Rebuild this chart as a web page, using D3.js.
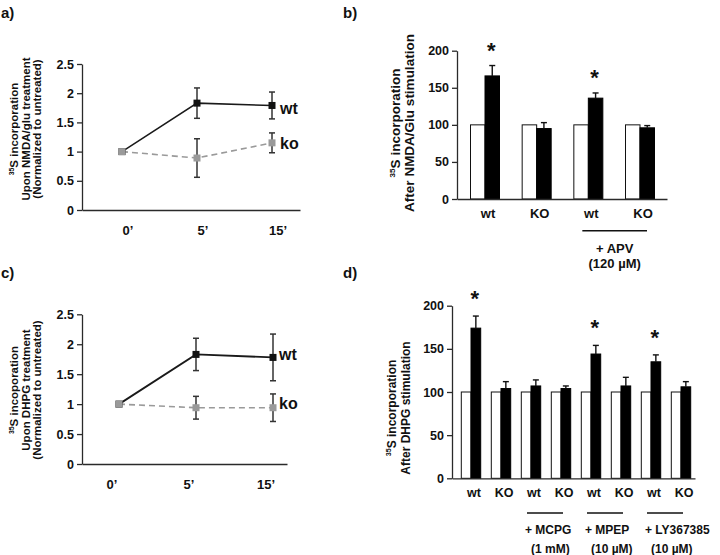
<!DOCTYPE html>
<html><head><meta charset="utf-8">
<script src="https://cdn.jsdelivr.net/npm/d3@7"></script>
<style>
body{margin:0;background:#fff}
svg{display:block}
text{font-family:Arial,"Liberation Sans",sans-serif;font-weight:bold;fill:#111}
</style>
</head><body>
<svg id="chart" width="720" height="555"></svg>
<script>
// ---------- DATA ----------
const timeLabels = ["0’", "5’", "15’"];
const lineTicks = [0, 0.5, 1, 1.5, 2, 2.5];

const nmdaWt = [1.0, 1.83, 1.79];
const nmdaWtErr = [0, 0.26, 0.23];
const nmdaKo = [1.0, 0.89, 1.15];
const nmdaKoErr = [0, 0.33, 0.17];

const dhpgWt = [1.0, 1.83, 1.78];
const dhpgWtErr = [0, 0.27, 0.39];
const dhpgKo = [1.0, 0.94, 0.94];
const dhpgKoErr = [0, 0.19, 0.23];

const barTicks = [0, 50, 100, 150, 200];

const bGroups = ["wt", "KO", "wt", "KO"];
const bCtrl = [100, 100, 100, 100];
const bStim = [166, 95, 136, 96];
const bErr = [14, 8, 7, 3];
const bSig = [true, false, true, false];
const bTreatNames = ["+ APV"];
const bTreatConc = ["(120 µM)"];
const bTreatGroups = [[2, 3]];

const dGroups = ["wt", "KO", "wt", "KO", "wt", "KO", "wt", "KO"];
const dCtrl = [100, 100, 100, 100, 100, 100, 100, 100];
const dStim = [174, 104, 107, 104, 144, 107, 135, 106];
const dErr = [14, 8, 7, 3, 10, 10, 8, 6];
const dSig = [true, false, false, false, true, false, true, false];
const dTreatNames = ["+ MCPG", "+ MPEP", "+ LY367385"];
const dTreatConc = ["(1 mM)", "(10 µM)", "(10 µM)"];
const dTreatGroups = [[2, 3], [4, 5], [6, 7]];

// ---------- DRAW ----------
const svg = d3.select("#chart");
const AX = "#2a2a2a";

function panelLetter(t, x, y) {
  svg.append("text").attr("x", x).attr("y", y).attr("font-size", 15).text(t);
}

function yLabel(lines, xs, cy, fs) {
  lines.forEach((ln, i) => {
    const t = svg.append("text")
      .attr("transform", `translate(${xs[i]},${cy}) rotate(-90)`)
      .attr("text-anchor", "middle").attr("font-size", fs);
    if (i === 0) {
      t.append("tspan").attr("font-size", fs * 0.6).attr("dy", -fs * 0.38).text("35");
      t.append("tspan").attr("dy", fs * 0.38).text(ln);
    } else {
      t.text(ln);
    }
  });
}

function yAxis(scale, x, ticks, fmt, fs) {
  const g = svg.append("g").attr("transform", `translate(${x},0)`)
    .call(d3.axisLeft(scale).tickValues(ticks).tickSize(5).tickSizeOuter(0).tickPadding(3).tickFormat(fmt));
  g.selectAll("path,line").attr("stroke", AX).attr("stroke-width", 1.3);
  g.selectAll("text").attr("font-size", fs).attr("font-family", null).attr("fill", "#111");
  return g;
}

function xAxisLine(x0, x1, y) {
  const s = d3.scaleLinear().range([x0, x1]);
  const g = svg.append("g").attr("transform", `translate(0,${y})`)
    .call(d3.axisBottom(s).ticks(0).tickSizeOuter(0));
  g.selectAll("path").attr("stroke", AX).attr("stroke-width", 1.3);
}

function linePanel(o) {
  const y = d3.scaleLinear().domain([0, 2.5]).range([o.yBottom, o.yTop]);
  const x = d3.scalePoint().domain(timeLabels).range(o.xRange);
  yAxis(y, o.axisX, lineTicks, d3.format("~g"), 12.5);
  xAxisLine(o.axisX, o.xEnd, y(0));
  timeLabels.forEach(t => {
    svg.append("text").attr("x", x(t) + o.labOff).attr("y", y(0) + 25)
      .attr("text-anchor", "middle").attr("font-size", 13).text(t);
  });
  const line = d3.line().x((d, i) => x(timeLabels[i])).y(d => y(d));
  svg.append("path").datum(o.ko).attr("d", line).attr("fill", "none")
    .attr("stroke", "#9a9a9a").attr("stroke-width", 1.6).attr("stroke-dasharray", "6,4");
  svg.append("path").datum(o.wt).attr("d", line).attr("fill", "none")
    .attr("stroke", "#1a1a1a").attr("stroke-width", o.wtW);
  [[o.wt, o.wtErr], [o.ko, o.koErr]].forEach(([v, e]) => {
    v.forEach((d, i) => {
      if (!e[i]) return;
      const cx = x(timeLabels[i]);
      const g = svg.append("g").attr("stroke", "#333").attr("stroke-width", 1.5);
      g.append("line").attr("x1", cx).attr("x2", cx).attr("y1", y(d - e[i])).attr("y2", y(d + e[i]));
      [d - e[i], d + e[i]].forEach(v2 => g.append("line").attr("x1", cx - 3).attr("x2", cx + 3).attr("y1", y(v2)).attr("y2", y(v2)));
    });
  });
  o.wt.forEach((d, i) => svg.append("rect").attr("x", x(timeLabels[i]) - 3.5).attr("y", y(d) - 3.5)
    .attr("width", 7).attr("height", 7).attr("fill", "#111"));
  o.ko.forEach((d, i) => svg.append("rect").attr("x", x(timeLabels[i]) - 3.5).attr("y", y(d) - 3.5)
    .attr("width", 7).attr("height", 7).attr("fill", "#9a9a9a"));
  svg.append("text").attr("x", o.legX).attr("y", o.wtLabY).attr("font-size", 16).text("wt");
  svg.append("text").attr("x", o.legX).attr("y", o.koLabY).attr("font-size", 16).text("ko");
  yLabel(o.ylab, [18, 29.5, 41], o.ylabCY, 11.5);
}

function barPanel(o) {
  const y = d3.scaleLinear().domain([0, 200]).range([o.yBottom, o.yTop]);
  const x = d3.scalePoint().domain(d3.range(o.groups.length)).range(o.xRange);
  yAxis(y, o.axisX, barTicks, d3.format("d"), 12.5);
  o.groups.forEach((g, i) => {
    const c = x(i);
    svg.append("rect").attr("x", c - o.bw).attr("y", y(o.ctrl[i])).attr("width", o.bw)
      .attr("height", y(0) - y(o.ctrl[i])).attr("fill", "#fff").attr("stroke", "#111").attr("stroke-width", 1);
    svg.append("rect").attr("x", c).attr("y", y(o.stim[i])).attr("width", o.bw)
      .attr("height", y(0) - y(o.stim[i])).attr("fill", "#000").attr("stroke", "#000").attr("stroke-width", 1);
    const bc = c + o.bw / 2;
    const eg = svg.append("g").attr("stroke", "#111").attr("stroke-width", 1.4);
    eg.append("line").attr("x1", bc).attr("x2", bc).attr("y1", y(o.stim[i])).attr("y2", y(o.stim[i] + o.err[i]));
    eg.append("line").attr("x1", bc - 3).attr("x2", bc + 3).attr("y1", y(o.stim[i] + o.err[i])).attr("y2", y(o.stim[i] + o.err[i]));
    if (o.sig[i]) {
      svg.append("text").attr("x", bc - 1).attr("y", y(o.stim[i] + o.err[i]) - o.starGap)
        .attr("text-anchor", "middle").attr("font-size", 22).text("*");
    }
    svg.append("text").attr("x", c + o.labOff).attr("y", o.labY).attr("text-anchor", "middle")
      .attr("font-size", o.labFS).text(g);
  });
  xAxisLine(o.axisX, o.xEnd, y(0));
  o.treatGroups.forEach((gr, k) => {
    const x1 = x(gr[0]) - o.brL, x2 = x(gr[1]) + o.brR;
    svg.append("line").attr("x1", x1).attr("x2", x2).attr("y1", o.brY).attr("y2", o.brY)
      .attr("stroke", "#111").attr("stroke-width", 1.6);
    o.treatLabel(o.treatNames[k], o.treatConc[k], x1, x2);
  });
  yLabel(o.ylab, o.ylabX, o.ylabCY, o.ylabFS);
}

panelLetter("a)", 1, 18);
panelLetter("b)", 343, 18);
panelLetter("c)", 1, 278);
panelLetter("d)", 343, 278);

linePanel({
  yTop: 64, yBottom: 210, axisX: 82, xEnd: 300, xRange: [122, 272], labOff: 6,
  wt: nmdaWt, wtErr: nmdaWtErr, ko: nmdaKo, koErr: nmdaKoErr, wtW: 1.5,
  legX: 280, wtLabY: 114, koLabY: 149,
  ylab: ["S incorporation", "Upon NMDA/glu treatment", "(Normalized to untreated)"], ylabCY: 129
});

linePanel({
  yTop: 314.3, yBottom: 464, axisX: 82, xEnd: 287, xRange: [119, 273], labOff: -7,
  wt: dhpgWt, wtErr: dhpgWtErr, ko: dhpgKo, koErr: dhpgKoErr, wtW: 1.8,
  legX: 279, wtLabY: 360, koLabY: 409,
  ylab: ["S incoporation", "Upon DHPG treatment", "(Normalized to untreated)"], ylabCY: 390
});

barPanel({
  yTop: 50.7, yBottom: 199, axisX: 457, xEnd: 667, xRange: [485, 640], bw: 14.5,
  groups: bGroups, ctrl: bCtrl, stim: bStim, err: bErr, sig: bSig, starGap: 7.5,
  labOff: 3, labY: 218, labFS: 13, brY: 230.7, brL: 6, brR: 7,
  treatGroups: bTreatGroups, treatNames: bTreatNames, treatConc: bTreatConc,
  treatLabel: (n, c, x1, x2) => {
    const m = (x1 + x2) / 2;
    svg.append("text").attr("x", m).attr("y", 253).attr("text-anchor", "middle").attr("font-size", 13).text(n);
    svg.append("text").attr("x", m).attr("y", 268).attr("text-anchor", "middle").attr("font-size", 13).text(c);
  },
  ylab: ["S incorporation", "After NMDA/Glu stimulation"], ylabX: [400, 414], ylabCY: 123, ylabFS: 13.5
});

barPanel({
  yTop: 305.7, yBottom: 478.3, axisX: 452, xEnd: 695, xRange: [471, 681], bw: 9.7,
  groups: dGroups, ctrl: dCtrl, stim: dStim, err: dErr, sig: dSig, starGap: 10,
  labOff: 3, labY: 497, labFS: 12.5, brY: 513, brL: 4, brR: 2,
  treatGroups: dTreatGroups, treatNames: dTreatNames, treatConc: dTreatConc,
  treatLabel: (n, c, x1, x2) => {
    svg.append("text").attr("x", x1 - 2).attr("y", 534).attr("font-size", 12).text(n);
    svg.append("text").attr("x", x1 + 4).attr("y", 553).attr("font-size", 12).text(c);
  },
  ylab: ["S incorporation", "After DHPG stimulation"], ylabX: [396, 410], ylabCY: 408, ylabFS: 12
});
</script>
</body></html>
